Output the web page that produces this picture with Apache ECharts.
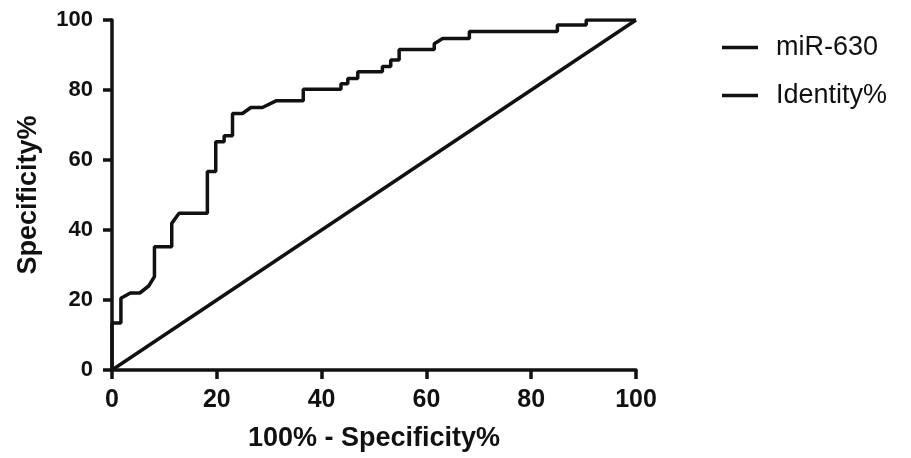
<!DOCTYPE html>
<html>
<head>
<meta charset="utf-8">
<script src="https://cdn.jsdelivr.net/npm/echarts@6/dist/echarts.min.js"></script>
<style>
  html, body { margin: 0; padding: 0; background: #fff; }
  #roc { width: 911px; height: 458px; }
</style>
</head>
<body>
<div id="roc"></div>
<script>
// ROC curve (x = 100% - specificity, y = sensitivity)
var rocX = [0, 0, 1.7, 1.7, 3.5, 5.3, 7, 8.1, 8.1, 11.4, 11.4, 12.8, 18.2, 18.2, 19.8, 19.8, 21.4, 21.4, 23, 23, 24.9, 26.5, 28.7, 31.3, 36.5, 36.5, 43.7, 43.7, 45, 45, 46.9, 46.9, 51.6, 51.6, 53.2, 53.2, 54.8, 54.8, 61.5, 61.5, 63.1, 68.2, 68.2, 85, 85, 90.5, 90.5, 100];
var rocY = [0, 13.4, 13.4, 20.5, 22, 22, 24, 26.7, 35.2, 35.2, 41.9, 44.8, 44.8, 56.7, 56.7, 65.2, 65.2, 66.9, 66.9, 73.3, 73.3, 75, 75, 76.9, 76.9, 80.2, 80.2, 81.8, 81.8, 83.3, 83.3, 85.2, 85.2, 86.7, 86.7, 88.6, 88.6, 91.6, 91.6, 93.2, 94.7, 94.7, 96.7, 96.7, 98.6, 98.6, 100, 100];
var identityX = [0, 100];
var identityY = [0, 100];
var axisTicks = [0, 20, 40, 60, 80, 100];

var chart = echarts.init(document.getElementById("roc"));
var ink = "#111";
var font = "'Liberation Sans', Arial, sans-serif";

function pairs(xs, ys) {
  return xs.map(function (x, i) { return [x, ys[i]]; });
}

var axisCommon = {
  type: "value",
  min: axisTicks[0],
  max: axisTicks[axisTicks.length - 1],
  interval: 20,
  nameLocation: "middle",
  nameTextStyle: { color: ink, fontSize: 27, fontWeight: "bold", fontFamily: font },
  axisLine: { show: true, lineStyle: { color: ink, width: 3.5 } },
  axisTick: { show: true, length: 9, lineStyle: { color: ink, width: 3.5 } },
  axisLabel: { color: ink, fontSize: 24, fontWeight: "bold", fontFamily: font },
  splitLine: { show: false }
};

var option = {
  backgroundColor: "#fff",
  animation: false,
  grid: { left: 112, right: 275, top: 20, bottom: 88 },
  legend: {
    orient: "vertical",
    left: 717,
    top: 29,
    itemGap: 21,
    itemWidth: 36,
    itemHeight: 3.5,
    icon: "rect",
    textStyle: { color: ink, fontSize: 27, fontFamily: font, padding: [0, 0, 0, 13] },
    data: ["miR-630", "Identity%"]
  },
  xAxis: Object.assign({}, axisCommon, {
    name: "100% - Specificity%",
    nameGap: 55,
    axisLabel: Object.assign({}, axisCommon.axisLabel, { fontSize: 25, margin: 18 })
  }),
  yAxis: Object.assign({}, axisCommon, {
    name: "Specificity%",
    nameGap: 70,
    axisLabel: Object.assign({}, axisCommon.axisLabel, { fontSize: 22, margin: 19 })
  }),
  series: [
    {
      name: "miR-630",
      type: "line",
      data: pairs(rocX, rocY),
      symbol: "none",
      lineStyle: { color: ink, width: 3.5 },
      itemStyle: { color: ink }
    },
    {
      name: "Identity%",
      type: "line",
      data: pairs(identityX, identityY),
      symbol: "none",
      lineStyle: { color: ink, width: 3.5 },
      itemStyle: { color: ink }
    }
  ]
};

chart.setOption(option);
</script>
</body>
</html>
